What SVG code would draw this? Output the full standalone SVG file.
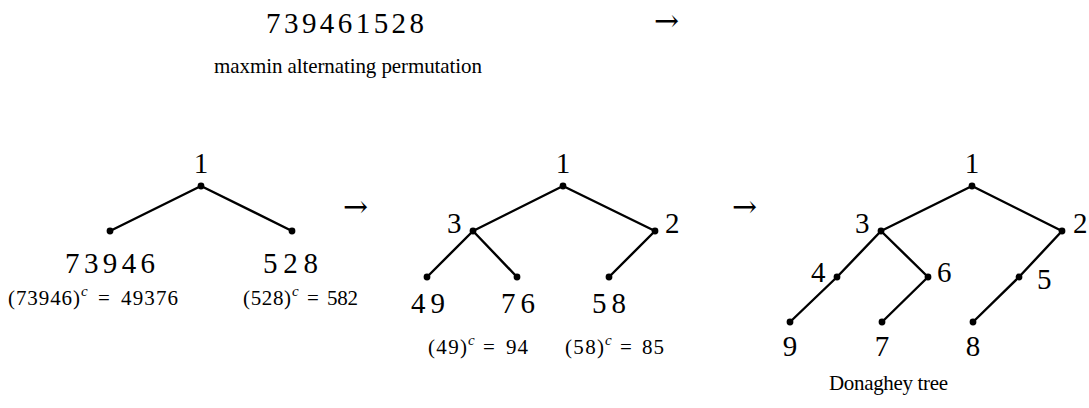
<svg xmlns="http://www.w3.org/2000/svg" width="1089" height="408" viewBox="0 0 1089 408">
<style>
text{font-family:"Liberation Serif","DejaVu Serif",serif;fill:#000}
.big{font-size:29px}
.lbl{font-size:29px}
.mid{font-size:21px}
.sm{font-size:21px}
.sup{font-size:15px;font-style:italic}
.arr{font-family:"DejaVu Serif","Liberation Serif",serif;font-size:30px}
.e{stroke:#000;stroke-width:2.4;fill:none;stroke-linecap:round}
.d{fill:#000}
</style>
<rect width="1089" height="408" fill="#fff"/>
<g id="title">
<text class="big" x="266" y="33" textLength="158" lengthAdjust="spacing">739461528</text>
<text class="mid" x="214" y="73" textLength="268" lengthAdjust="spacing">maxmin alternating permutation</text>
<text class="arr" x="654" y="31">→</text>
</g>
<g id="connectors">
<line class="e" x1="201" y1="186" x2="110" y2="231"/>
<line class="e" x1="201" y1="186" x2="292" y2="231"/>
<line class="e" x1="563" y1="186" x2="473" y2="231"/>
<line class="e" x1="563" y1="186" x2="655" y2="231"/>
<line class="e" x1="473" y1="231" x2="427" y2="277"/>
<line class="e" x1="473" y1="231" x2="517" y2="277"/>
<line class="e" x1="655" y1="231" x2="609" y2="277"/>
<line class="e" x1="972" y1="186" x2="881" y2="231"/>
<line class="e" x1="972" y1="186" x2="1062" y2="231"/>
<line class="e" x1="881" y1="231" x2="837" y2="277"/>
<line class="e" x1="881" y1="231" x2="928" y2="277"/>
<line class="e" x1="1062" y1="231" x2="1019" y2="277"/>
<line class="e" x1="837" y1="277" x2="790" y2="322"/>
<line class="e" x1="928" y1="277" x2="882" y2="322"/>
<line class="e" x1="1019" y1="277" x2="973" y2="322"/>
</g>
<g id="tree1">
<circle class="d" cx="201" cy="186" r="3.4"/>
<circle class="d" cx="110" cy="231" r="3.4"/>
<circle class="d" cx="292" cy="231" r="3.4"/>
<text class="lbl" x="201" y="173" text-anchor="middle">1</text>
<text class="lbl" x="65" y="273" textLength="90" lengthAdjust="spacing">73946</text>
<text class="lbl" x="263" y="273" textLength="55" lengthAdjust="spacing">528</text>
<g class="sub">
<text class="sm" x="8" y="305" textLength="72" lengthAdjust="spacing">(73946)</text>
<text class="sup" x="81" y="296">c</text>
<text class="sm" x="104" y="305" text-anchor="middle">=</text>
<text class="sm" x="121" y="305" textLength="57" lengthAdjust="spacing">49376</text>
</g>
<g class="sub">
<text class="sm" x="243" y="305" textLength="48" lengthAdjust="spacing">(528)</text>
<text class="sup" x="292" y="296">c</text>
<text class="sm" x="313" y="305" text-anchor="middle">=</text>
<text class="sm" x="327" y="305" textLength="31" lengthAdjust="spacing">582</text>
</g>
<text class="arr" x="343" y="217">→</text>
</g>
<g id="tree2">
<circle class="d" cx="563" cy="186" r="3.4"/>
<circle class="d" cx="473" cy="231" r="3.4"/>
<circle class="d" cx="655" cy="231" r="3.4"/>
<circle class="d" cx="427" cy="277" r="3.4"/>
<circle class="d" cx="517" cy="277" r="3.4"/>
<circle class="d" cx="609" cy="277" r="3.4"/>
<text class="lbl" x="563" y="173" text-anchor="middle">1</text>
<text class="lbl" x="447" y="233">3</text>
<text class="lbl" x="665" y="233">2</text>
<text class="lbl" x="411" y="313" textLength="34" lengthAdjust="spacing">49</text>
<text class="lbl" x="501" y="313" textLength="34" lengthAdjust="spacing">76</text>
<text class="lbl" x="592" y="313" textLength="34" lengthAdjust="spacing">58</text>
<g class="sub">
<text class="sm" x="428" y="354" textLength="39" lengthAdjust="spacing">(49)</text>
<text class="sup" x="468" y="345">c</text>
<text class="sm" x="489" y="354" text-anchor="middle">=</text>
<text class="sm" x="506" y="354" textLength="22" lengthAdjust="spacing">94</text>
</g>
<g class="sub">
<text class="sm" x="565" y="354" textLength="39" lengthAdjust="spacing">(58)</text>
<text class="sup" x="605" y="345">c</text>
<text class="sm" x="626" y="354" text-anchor="middle">=</text>
<text class="sm" x="642" y="354" textLength="22" lengthAdjust="spacing">85</text>
</g>
<text class="arr" x="732" y="217">→</text>
</g>
<g id="tree3">
<circle class="d" cx="972" cy="186" r="3.4"/>
<circle class="d" cx="881" cy="231" r="3.4"/>
<circle class="d" cx="1062" cy="231" r="3.4"/>
<circle class="d" cx="837" cy="277" r="3.4"/>
<circle class="d" cx="928" cy="277" r="3.4"/>
<circle class="d" cx="1019" cy="277" r="3.4"/>
<circle class="d" cx="790" cy="322" r="3.4"/>
<circle class="d" cx="882" cy="322" r="3.4"/>
<circle class="d" cx="973" cy="322" r="3.4"/>
<text class="lbl" x="972" y="173" text-anchor="middle">1</text>
<text class="lbl" x="855" y="233">3</text>
<text class="lbl" x="1073" y="233">2</text>
<text class="lbl" x="811" y="282">4</text>
<text class="lbl" x="937" y="282">6</text>
<text class="lbl" x="1037" y="289">5</text>
<text class="lbl" x="790" y="356" text-anchor="middle">9</text>
<text class="lbl" x="882" y="356" text-anchor="middle">7</text>
<text class="lbl" x="973" y="356" text-anchor="middle">8</text>
<text class="mid" x="829" y="390" textLength="119" lengthAdjust="spacing">Donaghey tree</text>
</g>
</svg>
